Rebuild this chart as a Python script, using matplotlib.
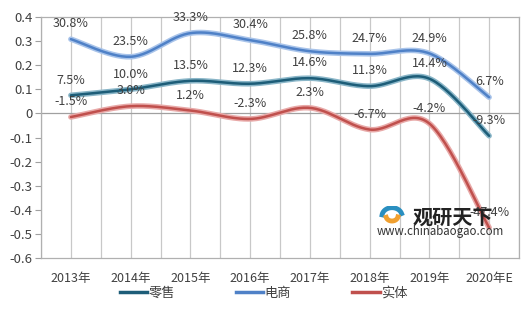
import numpy as np
import matplotlib
matplotlib.use("Agg")
import matplotlib.pyplot as plt
from matplotlib.lines import Line2D

plt.rcParams['font.family'] = ['Noto Sans CJK SC', 'DejaVu Sans']

years = ['2013年', '2014年', '2015年', '2016年', '2017年', '2018年', '2019年', '2020年E']
retail = [0.075, 0.100, 0.135, 0.123, 0.146, 0.113, 0.144, -0.093]
ecom = [0.308, 0.235, 0.333, 0.304, 0.258, 0.247, 0.249, 0.067]
physical = [-0.015, 0.030, 0.012, -0.023, 0.023, -0.067, -0.042, -0.474]
series_names = ['零售', '电商', '实体']


def smooth(xs, ys, n=30):
    xs = np.asarray(xs, float)
    ys = np.asarray(ys, float)
    P = np.column_stack([xs, ys])
    P = np.vstack([P[0], P, P[-1]])
    out = []
    for i in range(1, len(P) - 2):
        p0, p1, p2, p3 = P[i - 1], P[i], P[i + 1], P[i + 2]
        c1 = p1 + (p2 - p0) / 6
        c2 = p2 - (p3 - p1) / 6
        t = np.linspace(0, 1, n)[:, None]
        seg = (1 - t) ** 3 * p1 + 3 * (1 - t) ** 2 * t * c1 + 3 * (1 - t) * t ** 2 * c2 + t ** 3 * p2
        out.append(seg if i == 1 else seg[1:])
    out = np.vstack(out)
    return out[:, 0], out[:, 1]


fig = plt.figure(figsize=(5.27, 3.25), dpi=100)
ax = fig.add_axes([41 / 527, 1 - 258 / 325, 478 / 527, 241 / 325])

x = np.arange(len(years))
styles = [
    (retail, '#8ab6c8', '#1d5d78'),
    (ecom, '#a9c4ea', '#4f81c7'),
    (physical, '#e8a9a8', '#c0504d'),
]
for vals, light, dark in styles:
    sx, sy = smooth(x, vals)
    ax.plot(sx, sy, color=light, lw=4.0, solid_capstyle='round', zorder=3)
    ax.plot(sx, sy, color=dark, lw=1.8, solid_capstyle='round', zorder=4)

for vals in (ecom, retail, physical):
    for xi, v in zip(x, vals):
        ax.annotate(f'{v * 100:.1f}%', (xi, v), xytext=(0, 11), textcoords='offset points',
                    ha='center', va='center', fontsize=9, color='#404040', zorder=6)

ax.set_xlim(-0.5, len(years) - 0.5)
ax.set_ylim(-0.6, 0.4)
ax.set_yticks(np.arange(-0.6, 0.41, 0.1))
ax.set_yticklabels(['0' if abs(t) < 1e-9 else f'{t:.1f}' for t in np.arange(-0.6, 0.41, 0.1)])
ax.set_xticks(x)
ax.set_xticklabels(years)
ax.set_xticks(np.arange(-0.5, len(years), 1), minor=True)
ax.grid(axis='x', which='both', color='#c8c8c8', lw=0.9)
ax.axhline(0, color='#a0a0a0', lw=0.9, zorder=2)
ax.tick_params(axis='x', which='both', length=0, labelsize=9, colors='#404040', pad=10)
ax.tick_params(axis='y', length=4, color='#a0a0a0', labelsize=9.5, colors='#404040', pad=2)
for s in ax.spines.values():
    s.set_color('#b0b0b0')
    s.set_linewidth(0.9)

# watermark
fig.text(413 / 527, 1 - 217 / 325, '观研天下', fontsize=14.5, fontweight='bold', color='#222222',
         ha='left', va='center', zorder=5)
fig.text(377 / 527, 1 - 232 / 325, 'www.chinabaogao.com', fontsize=8.3, color='#333333',
         ha='left', va='center', zorder=5)
wax = fig.add_axes([378 / 527, 1 - 226 / 325, 28 / 527, 20 / 325])
wax.set_axis_off()
th = np.linspace(0.3, 3.0, 50)
wax.plot(np.cos(th), np.sin(th), color='#2a8fc0', lw=3.5)
wax.plot(0.6 * np.cos(th + 3.1), 0.6 * np.sin(th + 3.1), color='#f0a030', lw=3.5)
wax.set_xlim(-1.4, 1.4)
wax.set_ylim(-1.2, 1.2)

handles = [Line2D([], [], color=c, lw=2.5) for c in ('#1d5d78', '#4f81c7', '#c0504d')]
fig.legend(handles, series_names, loc='center', bbox_to_anchor=(0.5, 1 - 293 / 325), ncol=3,
           frameon=False, fontsize=9.5, handlelength=2.1, handletextpad=0.1, columnspacing=4.6,
           labelcolor='#404040')

fig.savefig('out.png', dpi=100)
